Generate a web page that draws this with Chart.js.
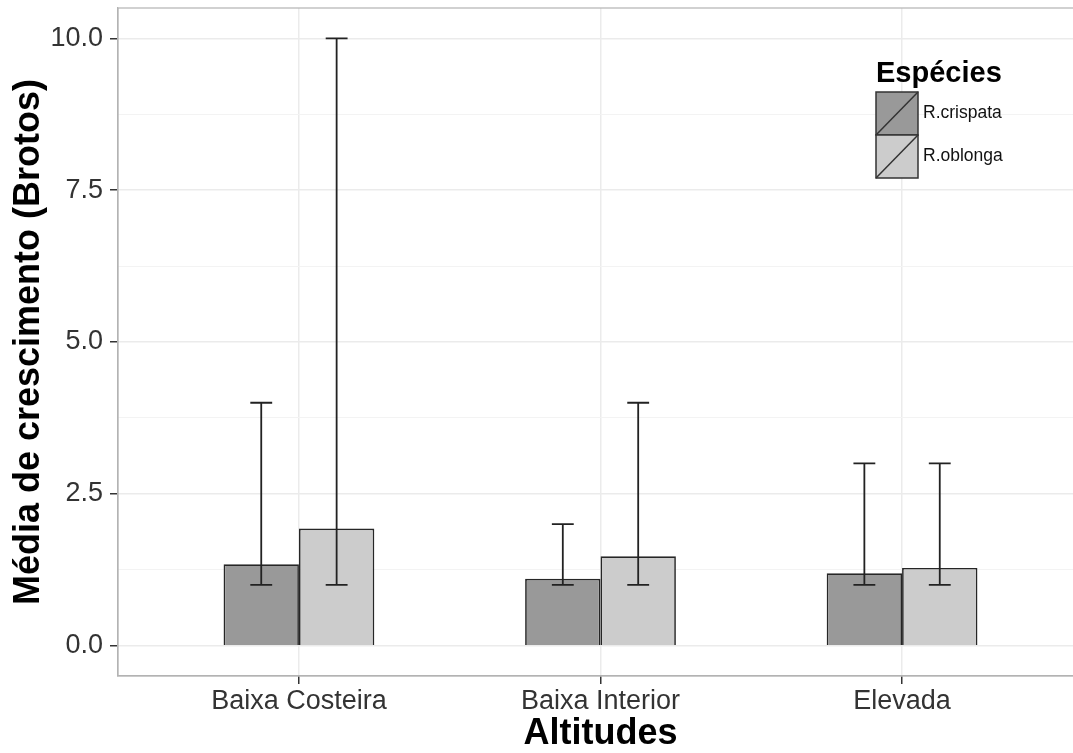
<!DOCTYPE html>
<html>
<head>
<meta charset="utf-8">
<script src="https://cdn.jsdelivr.net/npm/chart.js@4/dist/chart.umd.min.js"></script>
<style>
  html, body { margin: 0; padding: 0; background: #fff; overflow: hidden; }
  canvas { display: block; }
</style>
</head>
<body>
<canvas id="chart" width="1083" height="753"></canvas>
<script>
// categorias e valores
const altitudes = ["Baixa Costeira", "Baixa Interior", "Elevada"];
const xPositions = [1, 2, 3];

const crispataMean = [1.34, 1.10, 1.19];
const crispataLow = [1, 1, 1];
const crispataHigh = [4, 2, 3];

const oblongaMean = [1.93, 1.47, 1.28];
const oblongaLow = [1, 1, 1];
const oblongaHigh = [10, 4, 3];

const yMajorTicks = [0, 2.5, 5, 7.5, 10];
const yMinorTicks = [1.25, 3.75, 6.25, 8.75];

const FONT = '"Liberation Sans", Arial, Helvetica, sans-serif';

// barras de erro (min / max)
const errorBars = {
    id: "errorBars",
    afterDatasetsDraw(chart) {
        const ctx = chart.ctx;
        const y = chart.scales.y;
        ctx.save();
        ctx.strokeStyle = "#222";
        ctx.lineWidth = 1.8;
        chart.data.datasets.forEach((ds, i) => {
            chart.getDatasetMeta(i).data.forEach((bar, j) => {
                const top = y.getPixelForValue(ds.errorHigh[j]);
                const bottom = y.getPixelForValue(ds.errorLow[j]);
                const half = bar.width * 0.145;
                ctx.beginPath();
                ctx.moveTo(bar.x, top);
                ctx.lineTo(bar.x, bottom);
                ctx.moveTo(bar.x - half, top);
                ctx.lineTo(bar.x + half, top);
                ctx.moveTo(bar.x - half, bottom);
                ctx.lineTo(bar.x + half, bottom);
                ctx.stroke();
            });
        });
        ctx.restore();
    }
};

// borda do painel (estilo theme_bw)
const panelBorder = {
    id: "panelBorder",
    afterDraw(chart) {
        const { ctx, chartArea: a } = chart;
        ctx.save();
        ctx.strokeStyle = "#b3b3b3";
        ctx.lineWidth = 1.2;
        ctx.strokeRect(a.left, a.top, a.right - a.left, a.bottom - a.top);
        ctx.restore();
    }
};

// legenda dentro do painel
const legendBox = {
    id: "legendBox",
    afterDraw(chart) {
        const ctx = chart.ctx;
        const x = 876, y0 = 92, w = 42, h = 43;
        ctx.save();
        ctx.fillStyle = "#000";
        ctx.font = "bold 29px " + FONT;
        ctx.textBaseline = "alphabetic";
        ctx.fillText("Espécies", x, 82);
        chart.data.datasets.forEach((ds, i) => {
            const y = y0 + i * h;
            ctx.fillStyle = ds.backgroundColor;
            ctx.fillRect(x, y, w, h);
            ctx.strokeStyle = "#333";
            ctx.lineWidth = 1.5;
            ctx.strokeRect(x, y, w, h);
            ctx.beginPath();
            ctx.moveTo(x, y + h);
            ctx.lineTo(x + w, y);
            ctx.stroke();
            ctx.fillStyle = "#111";
            ctx.font = "17.5px " + FONT;
            ctx.textBaseline = "middle";
            ctx.fillText(ds.label, x + w + 5, y + h / 2);
        });
        ctx.restore();
    }
};

const noEdgePadding = s => {
    s.paddingTop = 0;
    s.paddingBottom = 0;
    s.paddingLeft = 0;
    s.paddingRight = 0;
};

const ctx = document.getElementById("chart").getContext("2d");
new Chart(ctx, {
    type: "bar",
    data: {
        datasets: [
            {
                label: "R.crispata",
                data: xPositions.map((x, i) => ({ x: x, y: crispataMean[i] })),
                errorLow: crispataLow,
                errorHigh: crispataHigh,
                backgroundColor: "#999999",
                borderColor: "#262626",
                borderWidth: 1.7
            },
            {
                label: "R.oblonga",
                data: xPositions.map((x, i) => ({ x: x, y: oblongaMean[i] })),
                errorLow: oblongaLow,
                errorHigh: oblongaHigh,
                backgroundColor: "#cccccc",
                borderColor: "#262626",
                borderWidth: 1.7
            }
        ]
    },
    options: {
        responsive: false,
        animation: false,
        devicePixelRatio: 1,
        categoryPercentage: 0.5,
        barPercentage: 1.0,
        layout: { padding: { top: 8, right: 0, left: 0, bottom: 0 } },
        plugins: {
            legend: { display: false },
            tooltip: { enabled: false }
        },
        scales: {
            x: {
                type: "linear",
                min: 0.4,
                max: 3.6,
                offset: false,
                afterBuildTicks: s => { s.ticks = xPositions.map(v => ({ value: v })); },
                afterFit: s => { s.height = 77; noEdgePadding(s); },
                grid: {
                    offset: false,
                    color: "#ebebeb",
                    lineWidth: 1.5,
                    tickColor: "#333",
                    tickLength: 8
                },
                border: { display: true, color: "#b3b3b3", width: 1.2 },
                ticks: {
                    autoSkip: false,
                    maxRotation: 0,
                    padding: 1,
                    color: "#333",
                    font: { family: FONT, size: 27 },
                    callback: v => altitudes[xPositions.indexOf(v)]
                },
                title: {
                    display: true,
                    text: "Altitudes",
                    color: "#000",
                    font: { family: FONT, size: 36, weight: "bold", lineHeight: 1 },
                    padding: { top: 0, bottom: 1 }
                }
            },
            y: {
                min: -0.5,
                max: 10.5,
                afterBuildTicks: s => {
                    s.ticks = yMajorTicks.concat(yMinorTicks)
                        .sort((a, b) => a - b)
                        .map(v => ({ value: v }));
                },
                afterFit: s => { s.width = 118; noEdgePadding(s); },
                grid: {
                    color: c => yMajorTicks.includes(c.tick.value) ? "#ebebeb" : "#f3f3f3",
                    lineWidth: c => yMajorTicks.includes(c.tick.value) ? 1.5 : 1,
                    tickColor: c => yMajorTicks.includes(c.tick.value) ? "#333" : "rgba(0,0,0,0)",
                    tickLength: 8
                },
                border: { display: true, color: "#b3b3b3", width: 1.2 },
                ticks: {
                    padding: 7,
                    color: "#333",
                    font: { family: FONT, size: 27 },
                    callback: v => yMajorTicks.includes(v) ? v.toFixed(1) : ""
                },
                title: {
                    display: true,
                    text: "Média de crescimento (Brotos)",
                    color: "#000",
                    font: { family: FONT, size: 36, weight: "bold", lineHeight: 1 },
                    padding: { top: 11, bottom: 0 }
                }
            }
        }
    },
    plugins: [errorBars, panelBorder, legendBox]
});
</script>
</body>
</html>
